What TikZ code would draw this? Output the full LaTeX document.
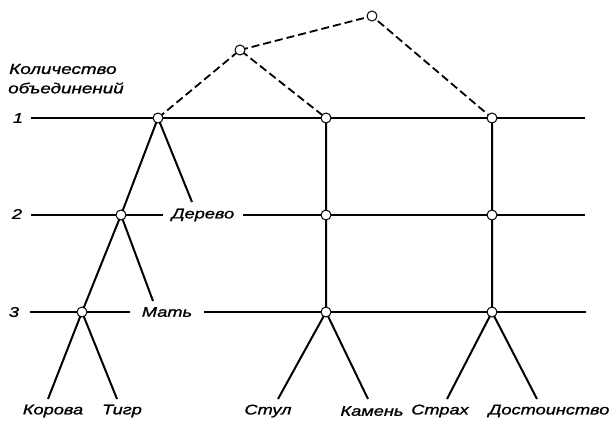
\documentclass[tikz,border=0pt]{standalone}
\usepackage{fontspec}
\newfontfamily\draftfont[FakeStretch=1.3,FakeBold=1.2]{Liberation Sans}
\usepackage{tikz}
\usetikzlibrary{arrows,shapes}

\tikzset{
knot/.style={circle,draw,fill=white,inner sep=0pt,minimum size=10pt,line width=1pt},
branch/.style={line width=2pt},
levelline/.style={line width=1.4pt},
link/.style={line width=1.8pt,dash pattern=on 8pt off 4pt},
word/.style={font=\draftfont\itshape\fontsize{14}{14}\selectfont,inner sep=1pt},
hdr/.style={font=\draftfont\itshape\fontsize{14.5}{14.5}\selectfont,inner sep=0pt,anchor=west}
}

\begin{document}
\begin{tikzpicture}[x=1pt,y=-1pt]
\useasboundingbox (0,0) rectangle (614,423);
% header and level numbers
\node[hdr] (h1) at (9,69) {Количество};
\node[hdr] (h2) at (8,88) {объединений};
\node[word] (n1) at (18,118) {1};
\node[word] (n2) at (17,214) {2};
\node[word] (n3) at (14,312) {3};
% level lines
\coordinate (l1) at (31,118); \coordinate (r1) at (585,118);
\coordinate (l2) at (31,215); \coordinate (r2) at (585,215);
\coordinate (l3) at (30,312); \coordinate (r3) at (586,312);
\node[word,inner xsep=9pt] (derevo) at (203,215) {Дерево};
\node[word,inner xsep=12pt] (mat) at (167,312) {Мать};
\draw[levelline] (l1)--(r1);
\draw[levelline] (l2)--(derevo.west) (derevo.east)--(r2);
\draw[levelline] (l3)--(mat.west) (mat.east)--(r3);
% leaves
\node[word] (korova) at (53,411) {Корова};
\node[word] (tigr) at (122,411) {Тигр};
\node[word] (stul) at (268,411) {Стул};
\node[word] (kamen) at (372,411) {Камень};
\node[word] (strah) at (440,411) {Страх};
\node[word] (dost) at (549,411) {Достоинство};
\coordinate (e1) at (192,202);
\coordinate (e2) at (153,301);
\coordinate (e3) at (48,399); \coordinate (e4) at (117,399);
\coordinate (e5) at (278,399); \coordinate (e6) at (368,399);
\coordinate (e7) at (447,399); \coordinate (e8) at (537,399);
% knots
\coordinate (a1) at (158,118); \coordinate (a2) at (121,215); \coordinate (a3) at (82,312);
\coordinate (b1) at (326,118); \coordinate (b2) at (326,215); \coordinate (b3) at (326,312);
\coordinate (c1) at (492,118); \coordinate (c2) at (492,215); \coordinate (c3) at (492,312);
\coordinate (top) at (372,16); \coordinate (mid) at (240,50);
\draw[branch] (a1)--(e1) (a1)--(a2)--(e2) (a2)--(a3)--(e3) (a3)--(e4);
\draw[branch] (b1)--(b2)--(b3)--(e5) (b3)--(e6);
\draw[branch] (c1)--(c2)--(c3)--(e7) (c3)--(e8);
\draw[link] (a1)--(mid)--(b1) (mid)--(top)--(c1);
\foreach \k in {a1,a2,a3,b1,b2,b3,c1,c2,c3,top,mid}
  \node[knot] at (\k) {};
\end{tikzpicture}
\end{document}
